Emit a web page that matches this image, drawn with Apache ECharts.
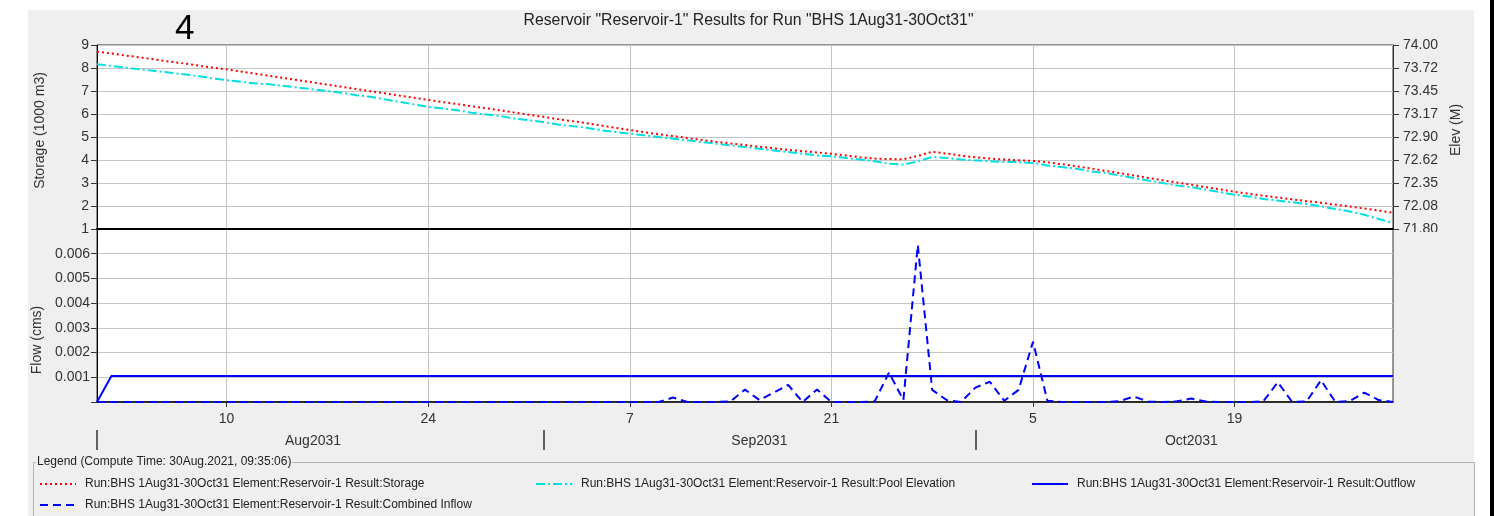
<!DOCTYPE html>
<html><head><meta charset="utf-8">
<script src="https://cdn.jsdelivr.net/npm/echarts@6/dist/echarts.min.js"></script>
<style>html,body{margin:0;padding:0;background:#fff}#c{width:1497px;height:516px}</style>
</head><body><div id="c"></div>
<script>
// ---- data (daily, 1 Aug 2031 .. 30 Oct 2031) ----
const storage = [
 8.71,8.63,8.54,8.46,8.37,8.28,8.20,8.11,8.02,7.94,
 7.85,7.75,7.66,7.56,7.47,7.37,7.28,7.18,7.09,6.99,
 6.90,6.80,6.71,6.61,6.52,6.43,6.34,6.25,6.16,6.06,
 5.97,5.88,5.78,5.69,5.60,5.50,5.40,5.30,5.21,5.12,
 5.04,4.96,4.87,4.79,4.72,4.65,4.58,4.51,4.44,4.38,
 4.33,4.27,4.20,4.12,4.06,4.04,4.03,4.18,4.36,4.28,
 4.19,4.12,4.06,4.02,3.99,3.96,3.90,3.82,3.73,3.63,
 3.53,3.43,3.33,3.22,3.12,3.02,2.92,2.82,2.72,2.62,
 2.53,2.45,2.37,2.29,2.21,2.14,2.06,1.98,1.89,1.80,
 1.71];
const poolElevation = [
 73.77,73.75,73.73,73.71,73.69,73.67,73.65,73.63,73.60,73.58,
 73.56,73.54,73.53,73.51,73.49,73.47,73.45,73.43,73.40,73.38,
 73.35,73.32,73.29,73.26,73.24,73.22,73.19,73.17,73.15,73.12,
 73.10,73.08,73.05,73.03,73.01,72.98,72.96,72.94,72.92,72.90,
 72.88,72.86,72.84,72.82,72.80,72.78,72.76,72.74,72.72,72.70,
 72.68,72.67,72.65,72.63,72.61,72.58,72.57,72.61,72.66,72.65,
 72.63,72.62,72.61,72.60,72.60,72.59,72.56,72.54,72.52,72.49,
 72.47,72.44,72.41,72.38,72.35,72.32,72.30,72.27,72.24,72.21,
 72.19,72.16,72.14,72.12,72.10,72.07,72.04,72.01,71.97,71.92,
 71.87];
const outflow = [
 0,0.00105,0.00105,0.00105,0.00105,0.00105,0.00105,0.00105,0.00105,0.00105,
 0.00105,0.00105,0.00105,0.00105,0.00105,0.00105,0.00105,0.00105,0.00105,0.00105,
 0.00105,0.00105,0.00105,0.00105,0.00105,0.00105,0.00105,0.00105,0.00105,0.00105,
 0.00105,0.00105,0.00105,0.00105,0.00105,0.00105,0.00105,0.00105,0.00105,0.00105,
 0.00105,0.00105,0.00105,0.00105,0.00105,0.00105,0.00105,0.00105,0.00105,0.00105,
 0.00105,0.00105,0.00105,0.00105,0.00105,0.00105,0.00105,0.00105,0.00105,0.00105,
 0.00105,0.00105,0.00105,0.00105,0.00105,0.00105,0.00105,0.00105,0.00105,0.00105,
 0.00105,0.00105,0.00105,0.00105,0.00105,0.00105,0.00105,0.00105,0.00105,0.00105,
 0.00105,0.00105,0.00105,0.00105,0.00105,0.00105,0.00105,0.00105,0.00105,0.00105,
 0.00105];
const combinedInflow = [
 0,0,0,0,0,0,0,0,0,0,
 0,0,0,0,0,0,0,0,0,0,
 0,0,0,0,0,0,0,0,0,0,
 0,0,0,0,0,0,0,0,0,0,
 0.00018,0,0,0,0.00003,0.0005,0.00008,0.00038,0.00069,0,
 0.00051,0,0,0,0.00002,0.00119,0.00008,0.00635,0.00049,0.00008,
 0,0.00058,0.00082,0.00005,0.00049,0.00244,0.00005,0,0,0,
 0,0.00003,0.00022,0.00002,0,0.00003,0.00014,0.00002,0,0,
 0,0.00003,0.0008,0,0.00002,0.00088,0,0.00004,0.00038,0.00008,
 0];

const seriesNames = [
 'Run:BHS 1Aug31-30Oct31 Element:Reservoir-1 Result:Storage',
 'Run:BHS 1Aug31-30Oct31 Element:Reservoir-1 Result:Pool Elevation',
 'Run:BHS 1Aug31-30Oct31 Element:Reservoir-1 Result:Outflow',
 'Run:BHS 1Aug31-30Oct31 Element:Reservoir-1 Result:Combined Inflow'
];
const storageTicks = ['1','2','3','4','5','6','7','8','9'];
const elevTicks = ['71.80','72.08','72.35','72.62','72.90','73.17','73.45','73.72','74.00'];
const flowTicks = ['','0.001','0.002','0.003','0.004','0.005','0.006',''];
const dayTickIndex = [9,23,37,51,65,79];
const dayTickLabels = ['10','24','7','21','5','19'];
const monthStartIndex = [0,31,61];
const monthLabelIndex = [15,46,76];
const monthLabels = ['Aug2031','Sep2031','Oct2031'];

// categories: one per day
const dates = [];
{
  const d0 = Date.UTC(2031,7,1);
  for (let i = 0; i < storage.length; i++) {
    const d = new Date(d0 + i*86400000);
    dates.push(d.toISOString().slice(0,10));
  }
}

const FONT = '"Liberation Sans", Arial, sans-serif';
const GRID_LINE = '#c4c4c4';
const isDayTick = (i) => dayTickIndex.indexOf(i) >= 0;
const isMonthStart = (i) => monthStartIndex.indexOf(i) >= 0;
const isMonthLabel = (i) => monthLabelIndex.indexOf(i) >= 0;

const chart = echarts.init(document.getElementById('c'), null, {renderer:'canvas'});

function legendAt(name, left, top) {
  return {
    data:[name], left:left, top:top, padding:0, itemWidth:36, itemHeight:14,
    selectedMode:false,
    itemStyle:{opacity:0},
    textStyle:{fontFamily:FONT, fontSize:12, color:'#222', padding:[0,0,0,4]}
  };
}

const option = {
  animation:false,
  backgroundColor:'#ffffff',
  textStyle:{fontFamily:FONT},
  title:[
    {text:'Reservoir "Reservoir-1" Results for Run "BHS 1Aug31-30Oct31"', left:'center', top:13, padding:0,
     textStyle:{fontFamily:FONT, fontSize:15.8, fontWeight:'normal', color:'#222'}},
    {text:'4', left:175, top:12, padding:0,
     textStyle:{fontFamily:FONT, fontSize:35, fontWeight:'normal', color:'#000'}}
  ],
  graphic:[
    {type:'rect', z:-100, silent:true, shape:{x:28, y:10, width:1446, height:506}, style:{fill:'#efefef'}},
    {type:'rect', z:-100, silent:true, shape:{x:1490, y:0, width:4, height:516}, style:{fill:'#000'}},
    {type:'rect', z:-90, silent:true, shape:{x:33.5, y:462.5, width:1441, height:70}, style:{fill:null, stroke:'#b4b4b4', lineWidth:1}},
    {type:'text', z:-80, silent:true, x:36, y:462, style:{text:'Legend (Compute Time: 30Aug.2021, 09:35:06)', font:'12px ' + FONT, fill:'#222', verticalAlign:'middle', backgroundColor:'#efefef', padding:[0,1]}},
    {type:'rect', z:100, silent:true, shape:{x:1398, y:232, width:50, height:10}, style:{fill:'#efefef'}}
  ],
  legend:[
    legendAt(seriesNames[0], 39, 478),
    legendAt(seriesNames[1], 535, 478),
    legendAt(seriesNames[2], 1031, 478),
    legendAt(seriesNames[3], 39, 499)
  ],
  grid:[
    {left:97, right:104, top:45, height:184, show:true, backgroundColor:'#fff', borderColor:'#333', borderWidth:1, outerBoundsMode:'none'},
    {left:97, right:104, top:229, height:173, show:true, backgroundColor:'#fff', borderColor:'#333', borderWidth:1, outerBoundsMode:'none'}
  ],
  xAxis:[
    {type:'category', gridIndex:0, data:dates, boundaryGap:false,
     axisLine:{show:true, lineStyle:{color:'#000', width:2}},
     axisTick:{show:false}, axisLabel:{show:false},
     splitLine:{show:true, interval:isDayTick, lineStyle:{color:GRID_LINE, width:1}}},
    {type:'category', gridIndex:1, data:dates, boundaryGap:false,
     axisLine:{show:true, lineStyle:{color:'#000', width:1.5}},
     axisTick:{show:true, interval:isDayTick, length:5, lineStyle:{color:'#333'}},
     axisLabel:{show:true, interval:isDayTick, margin:10, fontSize:14, color:'#333', fontFamily:FONT,
       formatter:(v, i) => dayTickLabels[dayTickIndex.indexOf(i)] || ''},
     splitLine:{show:true, interval:isDayTick, lineStyle:{color:GRID_LINE, width:1}}},
    {type:'category', gridIndex:1, data:dates, boundaryGap:false, position:'bottom', offset:28,
     axisLine:{show:false},
     axisTick:{show:true, interval:isMonthStart, length:20, lineStyle:{color:'#333', width:1.5}},
     axisLabel:{show:true, interval:isMonthLabel, margin:4, fontSize:14, color:'#333', fontFamily:FONT,
       formatter:(v, i) => monthLabels[monthLabelIndex.indexOf(i)] || ''},
     splitLine:{show:false}}
  ],
  yAxis:[
    {type:'value', gridIndex:0, min:1, max:9, interval:1, position:'left',
     name:'Storage (1000 m3)', nameLocation:'middle', nameGap:50,
     nameTextStyle:{fontSize:14, color:'#333', fontFamily:FONT, padding:[0,0,0,13]},
     axisLine:{show:true, lineStyle:{color:'#000'}},
     axisTick:{show:true, length:6, lineStyle:{color:'#333'}},
     axisLabel:{margin:8, fontSize:14, color:'#333', fontFamily:FONT, formatter:(v, i) => storageTicks[i]},
     splitLine:{show:true, lineStyle:{color:GRID_LINE, width:1}}},
    {type:'value', gridIndex:0, min:0, max:8, interval:1, position:'right',
     name:'Elev (M)', nameLocation:'middle', nameGap:56,
     nameTextStyle:{fontSize:14, color:'#333', fontFamily:FONT, padding:[0,0,0,14]},
     axisLine:{show:true, lineStyle:{color:'#333'}},
     axisTick:{show:true, length:6, lineStyle:{color:'#333'}},
     axisLabel:{margin:10, fontSize:14, color:'#333', fontFamily:FONT, formatter:(v, i) => elevTicks[i]},
     splitLine:{show:false}},
    {type:'value', gridIndex:0, min:71.8, max:74, show:false, splitLine:{show:false}},
    {type:'value', gridIndex:1, min:0, max:0.007, interval:0.001, position:'left',
     name:'Flow (cms)', nameLocation:'middle', nameGap:50,
     nameTextStyle:{fontSize:14, color:'#333', fontFamily:FONT, padding:[0,49,0,0]},
     axisLine:{show:true, lineStyle:{color:'#000'}},
     axisTick:{show:true, length:6, lineStyle:{color:'#333'}},
     axisLabel:{margin:7, fontSize:14, color:'#333', fontFamily:FONT, formatter:(v, i) => flowTicks[i]},
     splitLine:{show:true, lineStyle:{color:GRID_LINE, width:1}}}
  ],
  series:[
    {name:seriesNames[0], type:'line', xAxisIndex:0, yAxisIndex:0, data:storage, symbol:'none', showSymbol:false,
     itemStyle:{color:'#ff0000'}, lineStyle:{color:'#ff0000', width:2, type:[2,3]}, z:3},
    {name:seriesNames[1], type:'line', xAxisIndex:0, yAxisIndex:2, data:poolElevation, symbol:'none', showSymbol:false,
     itemStyle:{color:'#00e0e0'}, lineStyle:{color:'#00e0e0', width:2, type:[9,3,2,3]}, z:2},
    {name:seriesNames[2], type:'line', xAxisIndex:1, yAxisIndex:3, data:outflow, symbol:'none', showSymbol:false,
     itemStyle:{color:'#0000ff'}, lineStyle:{color:'#0000ff', width:2}, z:2},
    {name:seriesNames[3], type:'line', xAxisIndex:1, yAxisIndex:3, data:combinedInflow, symbol:'none', showSymbol:false,
     itemStyle:{color:'#0000ff'}, lineStyle:{color:'#0000ff', width:2, type:[8,5]}, z:3}
  ]
};
chart.setOption(option);
</script>
</body></html>
